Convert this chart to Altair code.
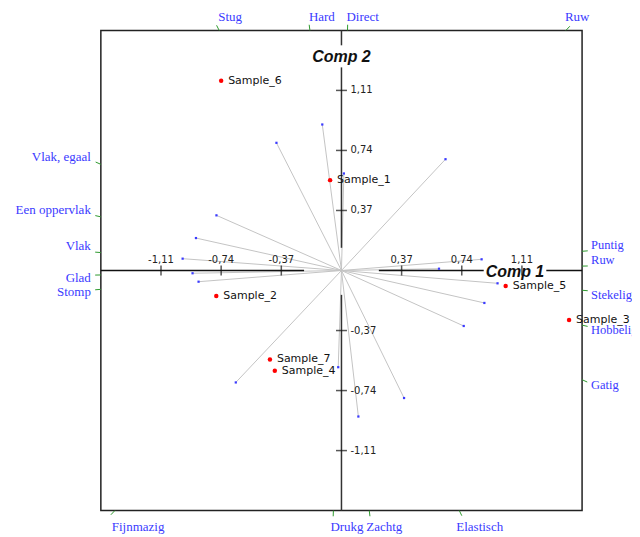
import altair as alt
import numpy as np
import pandas as pd

# ---- data ----
sample_names = ["Sample_1", "Sample_2", "Sample_3", "Sample_4", "Sample_5", "Sample_6", "Sample_7"]
sample_x = [-0.07, -0.77, 1.40, -0.41, 1.01, -0.74, -0.44]
sample_y = [0.557, -0.157, -0.305, -0.618, -0.095, 1.17, -0.548]

attr_names = ["Hard", "Stug", "Ruw", "Vlak, egaal", "Een oppervlak", "Vlak", "Direct",
              "Glad", "Stomp", "Puntig", "Ruw", "Stekelig", "Hobbelig", "Gatig",
              "Elastisch", "Zachtg", "Drukg", "Fijnmazig"]
load_x = [-0.118, -0.40, 0.64, -0.769, -0.895, -0.977, 0.015,
          -0.916, -0.879, 0.862, 0.60, 0.96, 0.879, 0.752,
          0.385, 0.104, -0.02, -0.65]
load_y = [0.90, 0.787, 0.686, 0.34, 0.20, 0.073, 0.598,
          -0.017, -0.069, 0.069, 0.011, -0.079, -0.20, -0.342,
          -0.786, -0.90, -0.596, -0.69]

tick_values = [-1.11, -0.74, -0.37, 0.37, 0.74, 1.11]
tick_labels = ["-1,11", "-0,74", "-0,37", "0,37", "0,74", "1,11"]

LIM = 1.48
# axis line pieces (start, end) along each axis
xaxis_pieces = [(-LIM, -0.23), (0.23, 0.875), (1.26, LIM)]
yaxis_pieces = [(-LIM, -0.15), (0.14, 1.252), (1.388, LIM)]

# ---- tables ----
xs = alt.Scale(domain=[-LIM, LIM], nice=False, zero=False)
ys = alt.Scale(domain=[-LIM, LIM], nice=False, zero=False)

samples = pd.DataFrame({"name": sample_names, "x": sample_x, "y": sample_y})

lx = np.array(load_x)
ly = np.array(load_y)
with np.errstate(divide="ignore"):
    t = np.minimum(np.where(lx != 0, LIM / np.abs(lx), np.inf),
                   np.where(ly != 0, LIM / np.abs(ly), np.inf))
px, py = lx * t, ly * t
norm = np.sqrt(lx ** 2 + ly ** 2)
qx, qy = px + lx / norm * 0.035, py + ly / norm * 0.035
vertical_side = np.abs(ly) > np.abs(lx)
side = np.where(vertical_side, np.where(ly > 0, "top", "bottom"),
                np.where(lx > 0, np.where(ly >= 0, "right_up", "right_down"),
                         np.where(ly >= 0, "left_up", "left_down")))
loads = pd.DataFrame({"name": attr_names, "lx": lx, "ly": ly, "x0": 0.0, "y0": 0.0,
                      "px": px, "py": py, "qx": qx, "qy": qy, "side": side})

xaxis = pd.DataFrame({"a": [p[0] for p in xaxis_pieces], "b": [p[1] for p in xaxis_pieces], "z": 0.0})
yaxis = pd.DataFrame({"a": [p[0] for p in yaxis_pieces], "b": [p[1] for p in yaxis_pieces], "z": 0.0})
ticks = pd.DataFrame({"v": tick_values, "lab": tick_labels, "z": 0.0})

X = lambda f: alt.X(f, type="quantitative", scale=xs, axis=None)
Y = lambda f: alt.Y(f, type="quantitative", scale=ys, axis=None)

BLUE = "#3a3aff"
GREEN = "#2e9a2e"

load_lines = alt.Chart(loads).mark_rule(color="#c4c4c4", strokeWidth=1).encode(
    x=X("x0"), y=Y("y0"), x2="lx", y2="ly")

xaxis_l = alt.Chart(xaxis).mark_rule(color="#111", strokeWidth=1.5).encode(
    x=X("a"), x2="b", y=Y("z"))
yaxis_l = alt.Chart(yaxis).mark_rule(color="#333", strokeWidth=1.5).encode(
    y=Y("a"), y2="b", x=X("z"))

xticks = alt.Chart(ticks).mark_tick(orient="vertical", size=10, thickness=1.5, color="#111").encode(
    x=X("v"), y=Y("z"))
yticks = alt.Chart(ticks).mark_tick(orient="horizontal", size=11, thickness=1.5, color="#111").encode(
    x=X("z"), y=Y("v"))

xtick_text = alt.Chart(ticks).mark_text(font="DejaVu Sans", fontSize=10, color="#222",
                                        align="center", baseline="middle", dy=-11).encode(
    x=X("v"), y=Y("z"), text="lab")
ytick_text = alt.Chart(ticks).mark_text(font="DejaVu Sans", fontSize=10, color="#222",
                                        align="left", baseline="middle", dx=9).encode(
    x=X("z"), y=Y("v"), text="lab")

load_dots = alt.Chart(loads).mark_square(color=BLUE, size=5, opacity=1).encode(
    x=X("lx"), y=Y("ly"))

frame_ticks = alt.Chart(loads).mark_rule(color=GREEN, strokeWidth=1).encode(
    x=X("px"), y=Y("py"), x2="qx", y2="qy")


def attr_text(which, size=13, **kw):
    return alt.Chart(loads).transform_filter(alt.datum.side == which).mark_text(
        font="Liberation Serif", fontSize=size, color=BLUE, **kw).encode(
        x=X("px"), y=Y("py"), text="name")


top_t = attr_text("top", align="left", baseline="alphabetic", dy=-9, dx=-1)
bot_t = attr_text("bottom", align="left", baseline="top", dy=10, dx=-3)
lu_t = attr_text("left_up", align="right", baseline="middle", dx=-10, dy=-7)
ld_t = attr_text("left_down", align="right", baseline="middle", dx=-10, dy=3)
ru_t = attr_text("right_up", size=12.5, align="left", baseline="middle", dx=9, dy=-6)
rd_t = attr_text("right_down", size=12.5, align="left", baseline="middle", dx=9, dy=5)

pts = alt.Chart(samples).mark_circle(color="#ff0000", size=20, opacity=1).encode(
    x=X("x"), y=Y("y"))
pt_text = alt.Chart(samples).mark_text(font="DejaVu Sans", fontSize=11, color="#111",
                                       align="left", baseline="middle", dx=7).encode(
    x=X("x"), y=Y("y"), text="name")

comp = pd.DataFrame({"lab": ["Comp 1", "Comp 2"], "x": [1.067, 0.0], "y": [-0.01, 1.314]})
comp_t = alt.Chart(comp).mark_text(font="Liberation Sans", fontSize=16, fontWeight="bold",
                                   fontStyle="italic", color="#111",
                                   align="center", baseline="middle").encode(
    x=X("x"), y=Y("y"), text="lab")

chart = alt.layer(
    load_lines, xaxis_l, yaxis_l, xticks, yticks, xtick_text, ytick_text,
    load_dots, frame_ticks, top_t, bot_t, lu_t, ld_t, ru_t, rd_t,
    pts, pt_text, comp_t
).properties(
    width=482, height=481,
    padding={"left": 93, "top": 22, "right": 50, "bottom": 26},
    autosize=alt.AutoSizeParams(type="none"),
).configure_view(stroke="#222", strokeWidth=1.5)

chart.save("out.html", embed_options={"renderer": "svg", "actions": False})
